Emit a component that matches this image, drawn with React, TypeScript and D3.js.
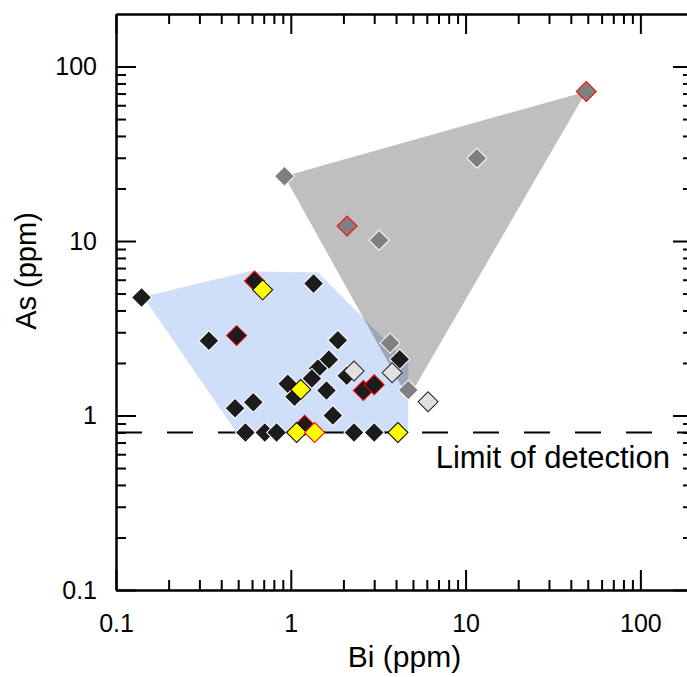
import React, { useEffect, useRef } from 'react';
import * as d3 from 'd3';

// Bi (ppm), As (ppm)
const blackPoints = [
    [0.14, 4.75], [0.34, 2.68], [1.35, 5.7], [0.48, 1.1], [0.61, 1.19],
    [1.86, 2.7], [1.65, 2.09], [1.43, 1.86], [1.6, 1.39], [1.32, 1.63],
    [0.96, 1.52], [1.05, 1.28], [1.74, 1.0], [2.09, 1.69], [4.2, 2.1],
    [0.55, 0.8], [0.71, 0.8], [0.83, 0.8], [2.3, 0.8], [3.0, 0.8]
];
const redBlackPoints = [[0.62, 5.9], [0.49, 2.87], [1.2, 0.88], [2.6, 1.39], [3.0, 1.5]];
const yellowPoints = [[0.69, 5.25], [1.14, 1.41], [1.08, 0.8], [4.1, 0.8]];
const redYellowPoints = [[1.37, 0.8]];
const greyPoints = [[0.92, 23.5], [3.2, 10.1], [11.6, 29.8], [3.7, 2.6], [4.7, 1.4]];
const redGreyPoints = [[49, 72], [2.1, 12.2]];
const lightGreyPoints = [[2.3, 1.8], [3.8, 1.76], [6.1, 1.2]];

const bluePolygon = [[0.143, 4.79], [0.58, 6.7], [1.43, 6.6], [4.7, 2.0], [4.7, 0.8], [0.49, 0.8]];
const greyPolygon = [[0.92, 23.5], [49, 72], [4.7, 1.25]];

const majorTicks = [0.1, 1, 10, 100];
const detectionLimit = 0.8;

const App = () => {
    const svgRef = useRef(null);

    useEffect(() => {
        const width = 687;
        const height = 677;
        const left = 116, right = 693, top = 14, bottom = 590;
        const font = '"Liberation Sans", Arial, sans-serif';

        const svg = d3.select(svgRef.current);
        svg.selectAll('*').remove();
        svg.attr('width', width).attr('height', height);

        const x = d3.scaleLog().domain([0.1, 200]).range([left, right]);
        const y = d3.scaleLog().domain([0.1, 200]).range([bottom, top]);

        const minorTicks = [];
        [0.1, 1, 10, 100].forEach(d => {
            for (let k = 2; k <= 9; k++) {
                const v = d * k;
                if (v < 200) minorTicks.push(v);
            }
        });

        const line = d3.line().x(d => x(d[0])).y(d => y(d[1]));

        svg.append('path')
            .attr('d', line(bluePolygon) + 'Z')
            .attr('fill', '#cfdffa');

        svg.append('path')
            .attr('d', line(greyPolygon) + 'Z')
            .attr('fill', '#000')
            .attr('fill-opacity', 0.25);

        svg.append('line')
            .attr('x1', left)
            .attr('x2', right)
            .attr('y1', y(detectionLimit))
            .attr('y2', y(detectionLimit))
            .attr('stroke', '#000')
            .attr('stroke-width', 2)
            .attr('stroke-dasharray', '26 25');

        const diamond = d3.symbol().type(d3.symbolSquare).size(200);

        const drawPoints = (pts, fill, stroke) => {
            svg.append('g')
                .selectAll('path')
                .data(pts)
                .enter()
                .append('path')
                .attr('d', diamond)
                .attr('transform', d => `translate(${x(d[0])}, ${y(d[1])}) rotate(45)`)
                .attr('fill', fill)
                .attr('stroke', stroke)
                .attr('stroke-width', 1);
        };

        drawPoints(greyPoints, '#808080', '#fff');
        drawPoints(redGreyPoints, '#808080', '#ff0000');
        drawPoints(blackPoints, '#1c1c1c', '#fff');
        drawPoints(redBlackPoints, '#1c1c1c', '#ff0000');
        drawPoints(yellowPoints, '#ffff00', '#000');
        drawPoints(redYellowPoints, '#ffff00', '#ff0000');
        drawPoints(lightGreyPoints, '#e0e0e0', '#222');

        const styleAxis = g => {
            g.select('.domain').attr('stroke-width', 2);
            g.selectAll('.tick line').attr('stroke-width', 2);
            g.selectAll('text').style('font-family', font).style('font-size', '25px').attr('fill', '#000');
        };

        // major ticks with labels
        svg.append('g')
            .attr('transform', `translate(${left}, 0)`)
            .call(d3.axisLeft(y).tickValues(majorTicks).tickFormat(d3.format('~g')).tickSizeInner(-20).tickSizeOuter(0).tickPadding(19))
            .call(styleAxis);
        svg.append('g')
            .attr('transform', `translate(0, ${bottom})`)
            .call(d3.axisBottom(x).tickValues(majorTicks).tickFormat(d3.format('~g')).tickSizeInner(-20).tickSizeOuter(0).tickPadding(24))
            .call(styleAxis);
        svg.append('g')
            .attr('transform', `translate(0, ${top})`)
            .call(d3.axisTop(x).tickValues(majorTicks).tickFormat('').tickSizeInner(-20).tickSizeOuter(0))
            .call(styleAxis);
        svg.append('g')
            .attr('transform', `translate(${right}, 0)`)
            .call(d3.axisRight(y).tickValues(majorTicks).tickFormat('').tickSizeInner(-20).tickSizeOuter(0))
            .call(styleAxis);

        // minor ticks
        svg.append('g')
            .attr('transform', `translate(${left}, 0)`)
            .call(d3.axisLeft(y).tickValues(minorTicks).tickFormat('').tickSizeInner(-10).tickSizeOuter(0))
            .call(styleAxis);
        svg.append('g')
            .attr('transform', `translate(0, ${bottom})`)
            .call(d3.axisBottom(x).tickValues(minorTicks).tickFormat('').tickSizeInner(-10).tickSizeOuter(0))
            .call(styleAxis);
        svg.append('g')
            .attr('transform', `translate(0, ${top})`)
            .call(d3.axisTop(x).tickValues(minorTicks).tickFormat('').tickSizeInner(-10).tickSizeOuter(0))
            .call(styleAxis);
        svg.append('g')
            .attr('transform', `translate(${right}, 0)`)
            .call(d3.axisRight(y).tickValues(minorTicks).tickFormat('').tickSizeInner(-10).tickSizeOuter(0))
            .call(styleAxis);

        svg.append('text')
            .attr('x', 670)
            .attr('y', 468)
            .attr('text-anchor', 'end')
            .style('font-family', font)
            .style('font-size', '31px')
            .text('Limit of detection');

        svg.append('text')
            .attr('x', (left + right) / 2)
            .attr('y', 667)
            .attr('text-anchor', 'middle')
            .style('font-family', font)
            .style('font-size', '30px')
            .text('Bi (ppm)');

        svg.append('text')
            .attr('transform', 'rotate(-90)')
            .attr('x', -271)
            .attr('y', 36)
            .attr('text-anchor', 'middle')
            .style('font-family', font)
            .style('font-size', '29px')
            .text('As (ppm)');
    }, []);

    return <svg ref={svgRef} style={{ position: 'absolute', left: 0, top: 0 }}></svg>;
};

export default App;
